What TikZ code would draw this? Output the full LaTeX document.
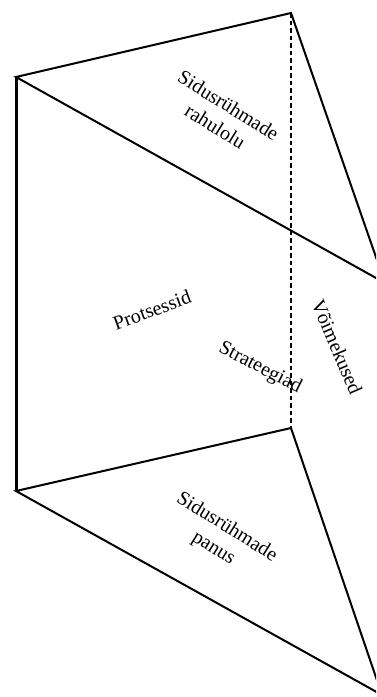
\documentclass[tikz,border=0pt]{standalone}
\usepackage{fontspec}
\setmainfont{Liberation Serif}
\begin{document}
\begin{tikzpicture}[x=1pt,y=-1pt,
  edge/.style={line width=2pt, line join=miter},
  thick edge/.style={line width=3pt},
  dash edge/.style={line width=2pt, dash pattern=on 4.5pt off 3pt},
  lbl/.style={font=\fontsize{20}{25}\selectfont, align=center, inner sep=0pt}]
\useasboundingbox (0,0) rectangle (376,697);
\clip (0,0) rectangle (376,697);
\coordinate (A) at (16,77);
\coordinate (B) at (291,13);
\coordinate (C) at (385,283);
\coordinate (D) at (16,491);
\coordinate (E) at (291,428);
\coordinate (F) at (382,695);
\draw[edge] (A) -- (B) -- (C) -- cycle;
\draw[edge] (D) -- (E) -- (F) -- cycle;
\draw[thick edge] (A) -- (D);
\draw[dash edge] (B) -- (E);
\node[lbl, rotate=-32] (sr) at (222,116) {Sidusrühmade\\rahulolu};
\node[lbl, rotate=20] (pr) at (152,310) {Protsessid};
\node[lbl, rotate=-27] (st) at (260,368) {Strateegiad};
\node[lbl, rotate=-67] (vo) at (337,347) {Võimekused};
\node[lbl, rotate=-32] (sp) at (220,538) {Sidusrühmade\\panus};
\end{tikzpicture}
\end{document}
